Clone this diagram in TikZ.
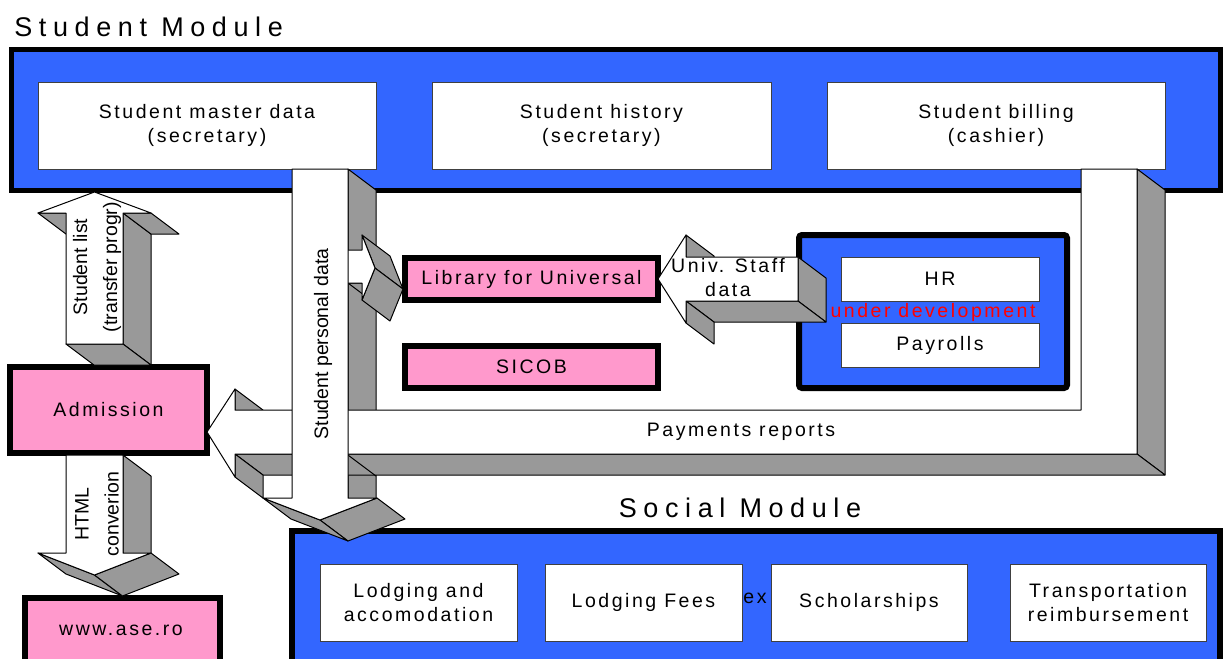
\documentclass[tikz,border=0pt]{standalone}
\usepackage{fontspec}
\setmainfont{Liberation Sans}
\newfontfamily\spfont[LetterSpace=13]{Liberation Sans}
\newfontfamily\ttlfont[LetterSpace=24.5]{Liberation Sans}
\usetikzlibrary{calc}
\definecolor{modblue}{HTML}{3366FF}
\definecolor{pinkc}{HTML}{FF99CC}
\definecolor{sidegrey}{HTML}{999999}
\definecolor{devred}{HTML}{FF0000}
\newcommand\bodyfont{\spfont\fontsize{9.75}{12}\selectfont}
\newcommand\rotfont{\fontsize{9.75}{15}\selectfont}
\newcommand\titlefont{\ttlfont\fontsize{13.5}{16}\selectfont}
\tikzset{
  modbox/.style={draw=black, line width=2.5pt, fill=modblue, inner sep=0pt, outer sep=0pt},
  wbox/.style={draw=black!75, line width=0.5pt, fill=white, inner sep=0pt, outer sep=0pt, font=\bodyfont, align=center},
  pbox/.style={draw=black, line width=3pt, fill=pinkc, inner sep=0pt, outer sep=0pt, font=\bodyfont},
  side/.style={fill=sidegrey, draw=black, line width=0.5pt, line join=round},
  front/.style={fill=white, draw=black, line width=0.5pt, line join=round},
  rottext/.style={font=\rotfont, rotate=90, align=center, inner sep=0pt},
  lbl/.style={font=\bodyfont, align=center, inner sep=0pt},
  ttl/.style={font=\titlefont, inner sep=0pt}
}
\newcommand\face[2]{\draw[side] (#1) -- (#2) -- ($(#2)+(28,21)$) -- ($(#1)+(28,21)$) -- cycle;}
\begin{document}
\begin{tikzpicture}[x=0.5pt,y=-0.5pt]
\useasboundingbox (0,0) rectangle (1223,659);
\fill[white] (0,0) rectangle (1223,659);

% Student module
\node[modbox, minimum width=604.75pt, minimum height=70.5pt] (stud) at (615.75,119.5) {};
\node[ttl, anchor=base west] (studt) at (14,36) {Student Module};
\node[wbox, minimum width=169pt, minimum height=43.5pt] (master) at (207,125.5) {Student master data\\(secretary)};
\node[wbox, minimum width=169.5pt, minimum height=43.5pt] (hist) at (601.5,125.5) {Student history\\(secretary)};
\node[wbox, minimum width=169pt, minimum height=43.5pt] (bill) at (996,125.5) {Student billing\\(cashier)};

% Social module
\node[modbox, line width=3pt, minimum width=464pt, minimum height=94.5pt] (soc) at (756,625.5) {};
\node[ttl, anchor=base] (soct) at (740,517) {Social Module};
\node[wbox, minimum width=98.5pt, minimum height=38.5pt] (lodg) at (418.5,602.5) {Lodging and\\accomodation};
\node[wbox, minimum width=98.5pt, minimum height=38.5pt] (fees) at (643.5,602.5) {Lodging Fees};
\node[wbox, minimum width=98pt, minimum height=38.5pt] (schol) at (869,602.5) {Scholarships};
\node[wbox, minimum width=98pt, minimum height=38.5pt] (transp) at (1108,602.5) {Transportation\\reimbursement};
\node[lbl] (ex) at (755,598) {ex};

% HR panel
\node[modbox, line width=3pt, rounded corners=1.5pt, minimum width=134pt, minimum height=76.5pt] (hrp) at (933,311.5) {};
\node[wbox, minimum width=99pt, minimum height=22pt] (hr) at (940,279) {HR};
\node[wbox, minimum width=99pt, minimum height=22pt] (pay) at (940,345) {Payrolls};
\node[lbl, text=devred, anchor=base] (dev) at (933,317) {under development};

% pink boxes
\node[pbox, minimum width=126.5pt, minimum height=21pt] (lib) at (531.5,279) {Library for Universal};
\node[pbox, minimum width=126.5pt, minimum height=21pt] (sicob) at (531.5,367) {SICOB};
\node[pbox, minimum width=98.5pt, minimum height=43pt] (adm) at (108.5,410) {Admission};
\node[pbox, minimum width=97.5pt, minimum height=51pt] (ase) at (122.5,649) {};
\node[lbl] (asetxt) at (121,630) {www.ase.ro};

% Student personal data arrow: side faces
\face{348,169}{348,498}
\face{377,498}{320,520}
\face{320,520}{263,498}

% Library arrow
\face{348,283}{362,283}
\face{362,235}{375,268}
\face{375,268}{362,300}
\draw[front] (340,250) -- (362,250) -- (362,235) -- (375,268) -- (362,300) -- (362,283) -- (340,283) -- cycle;

% Payments reports arrow
\face{1137,169}{1137,454}
\face{235,454}{1137,454}
\face{235,454}{235,477}
\face{235,389}{235,410}
\draw[front] (1081,169) -- (1137,169) -- (1137,454) -- (235,454) -- (235,477) -- (207,432) -- (235,389) -- (235,410) -- (1081,410) -- cycle;
\draw[line width=0.5pt] (348,455) -- (376,476);

% Student personal data arrow: front
\draw[front] (292,169) -- (348,169) -- (348,498) -- (377,498) -- (320,520) -- (263,498) -- (292,498) -- cycle;

% Student list arrow
\face{123,213}{123,344}
\face{66,344}{123,344}
\face{123,213}{151,213}
\face{38,213}{66,213}
\draw[front] (66,344) -- (66,213) -- (38,213) -- (94.5,192) -- (151,213) -- (123,213) -- (123,344) -- cycle;

% HTML arrow
\face{123,455}{123,553}
\face{38,553}{94.5,575}
\face{94.5,575}{151,553}
\draw[front] (66,455) -- (123,455) -- (123,553) -- (151,553) -- (94.5,575) -- (38,553) -- (66,553) -- cycle;

% Univ staff arrow
\face{798,257}{798,301}
\face{686,301}{798,301}
\face{686,301}{686,323}
\face{686,235}{686,257}
\draw[front] (798,257) -- (686,257) -- (686,235) -- (658,279) -- (686,323) -- (686,301) -- (798,301) -- cycle;

% arrow labels
\node[rottext] (slist) at (97,267) {Student list\\(transfer progr)};
\node[rottext] (html) at (97,514) {HTML\\converion};
\node[rottext] (spd) at (323,344) {Student personal data};
\node[lbl] (payrep) at (741,432) {Payments reports};
\node[lbl] (staff) at (728,278) {Univ. Staff\\data};
\end{tikzpicture}
\end{document}
